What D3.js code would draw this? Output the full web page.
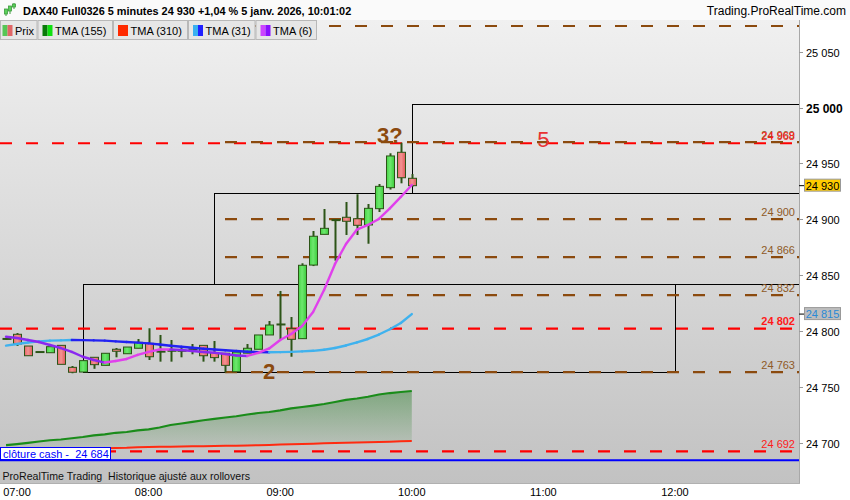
<!DOCTYPE html>
<html><head><meta charset="utf-8">
<script src="https://cdn.jsdelivr.net/npm/d3@7"></script>
<style>body{margin:0;background:#fff;overflow:hidden}svg{display:block;font-family:"Liberation Sans",Arial,sans-serif}</style>
</head><body><svg id="c" width="850" height="500"></svg>
<script>
// ---------- data ----------
const times = ["06:55","07:00","07:05","07:10","07:15","07:20","07:25","07:30","07:35","07:40","07:45","07:50","07:55",
  "08:00","08:05","08:10","08:15","08:20","08:25","08:30","08:35","08:40","08:45","08:50","08:55",
  "09:00","09:05","09:10","09:15","09:20","09:25","09:30","09:35","09:40","09:45","09:50","09:55","10:00"];
const open  = [24793.0,24796.9,24786.4,24781.0,24780.4,24787.0,24767.3,24763.1,24776.3,24769.1,24783.5,24779.5,24784.4,
  24788.8,24781.5,24782.3,24782.3,24783.6,24787.0,24780.6,24779.9,24763.4,24780.0,24783.5,24796.3,
  24805.8,24801.9,24793.0,24858.9,24886.4,24899.3,24901.7,24900.4,24894.8,24909.4,24928.2,24959.9,24936.6];
const high  = [24793.5,24798.0,24786.4,24781.0,24785.8,24787.0,24768.5,24773.3,24776.3,24779.9,24784.6,24785.5,24792.7,
  24802.3,24796.3,24791.8,24785.3,24788.2,24787.0,24790.9,24779.9,24781.0,24788.2,24796.3,24808.8,
  24835.7,24812.4,24860.5,24889.4,24909.1,24899.5,24915.4,24922.3,24913.6,24931.5,24959.0,24968.5,24940.4];
const low   = [24792.0,24786.4,24777.7,24781.0,24780.4,24770.0,24762.0,24763.1,24766.0,24769.1,24776.3,24779.5,24784.4,
  24773.9,24772.4,24772.4,24776.3,24779.0,24772.4,24772.4,24762.7,24763.4,24780.0,24783.5,24796.3,
  24792.4,24776.8,24793.0,24858.0,24886.4,24862.8,24885.8,24885.8,24878.0,24906.4,24926.5,24932.1,24929.0];
const close = [24792.5,24788.2,24777.7,24781.0,24785.8,24770.0,24762.9,24773.3,24769.7,24779.9,24781.7,24785.5,24789.7,
  24776.8,24781.2,24782.0,24782.0,24783.4,24777.7,24776.0,24769.1,24781.0,24784.4,24796.3,24805.2,
  24805.6,24792.4,24858.7,24884.7,24891.8,24899.0,24898.1,24894.5,24909.7,24929.4,24956.6,24937.1,24930.0];
const tma6  = [24794.7,24793.6,24791.8,24790.0,24787.3,24784.6,24781.1,24776.8,24773.9,24771.6,24773.0,24774.8,24778.4,
  24781.1,24783.3,24783.3,24782.8,24781.9,24781.1,24780.4,24779.3,24777.9,24777.5,24780.2,24784.2,
  24791.8,24797.2,24804.3,24816.9,24836.6,24859.9,24877.8,24890.7,24894.8,24900.2,24909.6,24919.9,24930.6];
const tma31 = [24786.7,24788.2,24789.6,24790.6,24791.2,24791.5,24791.8,24791.7,24791.5,24791.2,24790.6,24790.0,24789.4,
  24788.8,24787.8,24786.7,24785.7,24784.8,24784.0,24783.3,24782.6,24781.9,24781.3,24780.9,24780.8,
  24780.9,24781.2,24781.6,24782.1,24783.1,24784.6,24786.9,24789.6,24792.7,24796.7,24801.4,24807.0,24815.0];
const tma155 = [24697.6,24698.5,24699.6,24700.9,24702.0,24702.7,24703.8,24704.9,24706.3,24707.3,24708.7,24709.4,24710.8,
  24711.8,24713.4,24715.7,24717.0,24718.4,24719.9,24721.1,24722.4,24723.5,24725.1,24726.4,24727.3,
  24728.7,24730.5,24731.8,24733.1,24734.5,24736.3,24738.1,24739.4,24741.0,24743.0,24744.3,24745.2,24746.1];
const tma310 = [24693.1,24693.3,24693.6,24693.8,24694.1,24694.4,24694.5,24694.7,24694.8,24694.9,24695.1,24695.3,24695.8,
  24696.0,24696.2,24696.2,24696.4,24696.6,24696.7,24696.9,24697.0,24697.2,24697.4,24697.6,24697.8,
  24698.1,24698.5,24698.7,24698.9,24699.3,24699.6,24699.7,24700.0,24700.2,24700.5,24700.7,24701.1,24701.3];
const brownLevels = [25073,24969,24900,24866,24832,24763];
const redLevels   = [24968,24802,24692];
const boldRedLevels = [24802];
const closeCash = 24684;
const yTicks = [24700,24750,24800,24850,24900,24950,25000,25050];
const xTickLabels = ["07:00","08:00","09:00","10:00","11:00","12:00"];
const zoneFrom = ["07:30","08:30","10:00"];
const zoneTo   = ["12:00",null,null];
const zoneLow  = [24763,24842,24923];
const zoneHigh = [24842,24923,25003];
const noteText  = ["2","3?","5"];
const noteTime  = ["08:55","09:50","11:00"];
const notePrice = [24757,24968.2,24965];
const legendNames = ["Prix","TMA (155)","TMA (310)","TMA (31)","TMA (6)"];
const lastPrice = 24930, tma31Last = 24815;
const title = "DAX40 Full0326 5 minutes 24 930 +1,04 % 5 janv. 2026, 10:01:02";

// ---------- setup ----------
const svg = d3.select("#c");
const T = s => { const [h,m] = s.split(":").map(Number); return new Date(2026,0,5,h,m); };
const x = d3.scaleTime().domain([new Date(2026,0,5,6,52,15), new Date(2026,0,5,12,57,0)]).range([0,800]);
const y = d3.scaleLinear().domain([24700,25000]).range([442.5,107.5]);
const loc = d3.formatLocale({decimal:",",thousands:" ",grouping:[3],currency:["","€"]});
const fmt = loc.format(",");

const defs = svg.append("defs");
const bg = defs.append("linearGradient").attr("id","bg").attr("x1",0).attr("y1",0).attr("x2",0).attr("y2",1);
bg.append("stop").attr("offset",0).attr("stop-color","#f0f0f0");
bg.append("stop").attr("offset",1).attr("stop-color","#c2c2c2");
const cg = defs.append("linearGradient").attr("id","cloud").attr("gradientUnits","userSpaceOnUse")
  .attr("x1",0).attr("y1",388).attr("x2",0).attr("y2",450);
cg.append("stop").attr("offset",0).attr("stop-color","rgb(60,135,60)").attr("stop-opacity",0.55);
cg.append("stop").attr("offset",1).attr("stop-color","rgb(60,135,60)").attr("stop-opacity",0.06);
const gg = defs.append("linearGradient").attr("id","gbody").attr("x1",0).attr("x2",1);
gg.append("stop").attr("offset",0).attr("stop-color","#45d445");
gg.append("stop").attr("offset",0.45).attr("stop-color","#6ee86e");
gg.append("stop").attr("offset",1).attr("stop-color","#3ccc3c");
const rg = defs.append("linearGradient").attr("id","rbody").attr("x1",0).attr("x2",1);
rg.append("stop").attr("offset",0).attr("stop-color","#e86868");
rg.append("stop").attr("offset",0.45).attr("stop-color","#f49292");
rg.append("stop").attr("offset",1).attr("stop-color","#e05a5a");
defs.append("clipPath").attr("id","plot").append("rect").attr("x",0).attr("y",20).attr("width",799).attr("height",463);

svg.append("rect").attr("width",850).attr("height",500).attr("fill","#fff");
svg.append("rect").attr("x",0).attr("y",20).attr("width",800).attr("height",463).attr("fill","url(#bg)");

const P = svg.append("g").attr("clip-path","url(#plot)");
const n = times.length;
const idx = d3.range(n);

// cloud between TMA155 and TMA310
P.append("path").datum(idx)
  .attr("d", d3.area().x(i=>x(T(times[i]))).y0(i=>y(tma310[i])).y1(i=>y(tma155[i])))
  .attr("fill","url(#cloud)");
P.append("path").datum(idx).attr("d", d3.line().x(i=>x(T(times[i]))).y(i=>y(tma310[i])))
  .attr("fill","none").attr("stroke","#ff2a10").attr("stroke-width",2);
P.append("path").datum(idx).attr("d", d3.line().x(i=>x(T(times[i]))).y(i=>y(tma155[i])))
  .attr("fill","none").attr("stroke","#1a8c1a").attr("stroke-width",2.2);

// zones
zoneFrom.forEach((f,i)=>{
  const x0 = Math.round(x(T(f)))+0.5;
  const x1 = zoneTo[i] ? Math.round(x(T(zoneTo[i])))+0.5 : 801;
  const y0 = Math.round(y(zoneHigh[i]))+0.5, y1 = Math.round(y(zoneLow[i]))+0.5;
  P.append("rect").attr("x",x0).attr("y",y0).attr("width",x1-x0).attr("height",y1-y0)
    .attr("fill","none").attr("stroke","#000").attr("stroke-width",1);
});

// levels
redLevels.forEach(v=>{
  P.append("line").attr("x1",0).attr("x2",800).attr("y1",y(v)).attr("y2",y(v))
    .attr("stroke","#ff0000").attr("stroke-width",2.2).attr("stroke-dasharray","12,14");
});
brownLevels.forEach(v=>{
  P.append("line").attr("x1",225).attr("x2",800).attr("y1",y(v)).attr("y2",y(v))
    .attr("stroke","#8b4a0e").attr("stroke-width",2.2).attr("stroke-dasharray","12,14");
});

// close cash line
P.append("line").attr("x1",0).attr("x2",800).attr("y1",y(closeCash)).attr("y2",y(closeCash))
  .attr("stroke","#0000ff").attr("stroke-width",2);

// candles
const C = P.append("g");
idx.forEach(i=>{
  const cx = Math.round(x(T(times[i])));
  C.append("line").attr("x1",cx+0.5).attr("x2",cx+0.5).attr("y1",y(high[i])).attr("y2",y(low[i]))
    .attr("stroke","#2c5417").attr("stroke-width",2);
  const yt = y(Math.max(open[i],close[i])), yb = y(Math.min(open[i],close[i]));
  const h = yb-yt;
  if (h < 1.5) {
    C.append("rect").attr("x",cx-3.5).attr("y",(yt+yb)/2-1).attr("width",9).attr("height",2).attr("fill","#2c5417");
  } else {
    C.append("rect").attr("x",cx-3.5).attr("y",yt).attr("width",8).attr("height",h)
      .attr("fill", close[i]>=open[i] ? "url(#gbody)" : "url(#rbody)")
      .attr("stroke","#2c5417").attr("stroke-width",1);
  }
});

// TMA lines coloured by slope
function slopeLine(vals, up, down, w){
  d3.pairs(idx).forEach(([a,b])=>{
    P.append("line").attr("x1",x(T(times[a]))).attr("y1",y(vals[a]))
      .attr("x2",x(T(times[b]))).attr("y2",y(vals[b]))
      .attr("stroke", vals[b]>=vals[a] ? up : down).attr("stroke-width",w).attr("stroke-linecap","round");
  });
}
slopeLine(tma31, "#3fb2ee", "#2222f2", 2.4);
slopeLine(tma6, "#e040ec", "#8a28f0", 2.4);

// level labels (a label whose box would sit under the header stays hidden, as in the original)
function levelLabel(v, col, bold){
  const yy = y(v)-3.5;
  if (yy - 9 < 20) return;
  svg.append("text").attr("x",795).attr("y",yy).attr("text-anchor","end")
    .attr("font-size",11).attr("font-weight",bold?"bold":"normal").attr("fill",col).text(fmt(v));
}
brownLevels.forEach(v=>levelLabel(v,"#8e5a28",false));
redLevels.forEach(v=>levelLabel(v,"#ff1a1a",boldRedLevels.includes(v)));

// notes
const noteCol = ["#8b4a0e","#8b4a0e","#e83232"];
const noteW = ["bold","bold","normal"];
noteText.forEach((t,i)=>{
  svg.append("text").attr("x",x(T(noteTime[i]))).attr("y",y(notePrice[i])).attr("text-anchor","middle")
    .attr("font-size",22).attr("font-weight",noteW[i]).attr("fill",noteCol[i]).text(t);
});

// close cash label
svg.append("rect").attr("x",0.5).attr("y",447.5).attr("width",110).attr("height",12)
  .attr("fill","#fff").attr("stroke","#0000ff");
svg.append("text").attr("x",3).attr("y",457.5).attr("font-size",11).attr("fill","#0000ff")
  .attr("xml:space","preserve").text("clôture cash -  " + fmt(closeCash));

// bottom caption
svg.append("text").attr("x",2.5).attr("y",480).attr("font-size",10.6).attr("fill","#111")
  .attr("xml:space","preserve").text("ProRealTime Trading  Historique ajusté aux rollovers");

// right axis
svg.append("line").attr("x1",799.5).attr("x2",799.5).attr("y1",20).attr("y2",483).attr("stroke","#a8a8a8");
yTicks.forEach(v=>{
  const yy = Math.round(y(v))+0.5;
  svg.append("line").attr("x1",799).attr("x2",803).attr("y1",yy).attr("y2",yy).attr("stroke","#999");
  svg.append("text").attr("x",806).attr("y",yy+4).attr("font-size",v===25000?12:11)
    .attr("font-weight",v===25000?"bold":"normal").attr("fill","#000").text(fmt(v));
});
// tags
function tag(v, bgc, bc, tc){
  const yy = y(v);
  svg.append("line").attr("x1",799).attr("x2",804).attr("y1",yy).attr("y2",yy).attr("stroke","#000");
  svg.append("rect").attr("x",804.5).attr("y",yy-6.5).attr("width",36).attr("height",12)
    .attr("fill",bgc).attr("stroke",bc);
  svg.append("text").attr("x",822.5).attr("y",yy+4).attr("text-anchor","middle").attr("font-size",11)
    .attr("fill",tc).text(fmt(v));
}
tag(lastPrice,"#ffcc00","#999","#000");
tag(tma31Last,"#bdbdbd","#999","#2a8ad6");

// x axis
svg.append("rect").attr("x",0).attr("y",483).attr("width",850).attr("height",17).attr("fill","#fff");
svg.append("line").attr("x1",0).attr("x2",800).attr("y1",483.5).attr("y2",483.5).attr("stroke","#b0b0b0");
xTickLabels.forEach(s=>{
  const xx = x(T(s));
  svg.append("text").attr("x",xx).attr("y",496).attr("text-anchor","middle").attr("font-size",11).attr("fill","#000").text(s);
});

// header
svg.append("rect").attr("x",0).attr("y",0).attr("width",850).attr("height",20).attr("fill","#fafafa");
const ic = svg.append("g").attr("stroke","#3c9a3c").attr("fill","#5ad25a");
[[6,12,16,9,14],[10,8,14,6,11],[14,3,9,4,7]].forEach(([cx,y1,y2,b1,b2])=>{
  ic.append("line").attr("x1",cx).attr("x2",cx).attr("y1",y1).attr("y2",y2).attr("stroke-width",1);
  ic.append("rect").attr("x",cx-1.5).attr("y",b1).attr("width",3).attr("height",b2-b1).attr("stroke-width",0.8);
});
svg.append("text").attr("x",23).attr("y",15).attr("font-size",10.9).attr("font-weight","bold").attr("fill","#000").text(title);
svg.append("text").attr("x",846).attr("y",15).attr("text-anchor","end").attr("font-size",12).attr("fill","#000").text("Trading.ProRealTime.com");

// legend
const legX = [0,37.5,113,188,255.5,317];
const sw = [["#55c655","#e06666"],["#0a7a0a","#10e010"],["#ff2a00","#ff2a00"],["#3ab0f0","#2020ff"],["#cc44ff","#8a10ff"]];
legendNames.forEach((nm,i)=>{
  const x0 = legX[i], w = legX[i+1]-legX[i];
  const off = i===0 ? 0 : 2.5;
  svg.append("rect").attr("x",x0+0.5).attr("y",20.5).attr("width",w-1).attr("height",19)
    .attr("fill","#e6e6e6").attr("stroke","#b8b8b8");
  svg.append("rect").attr("x",x0+off+2.5).attr("y",25).attr("width",5).attr("height",11).attr("fill",sw[i][0]);
  svg.append("rect").attr("x",x0+off+7.5).attr("y",25).attr("width",5).attr("height",11).attr("fill",sw[i][1]);
  svg.append("text").attr("x",x0+off+15).attr("y",34.5).attr("font-size",11).attr("fill","#000").text(nm);
});
</script></body></html>
